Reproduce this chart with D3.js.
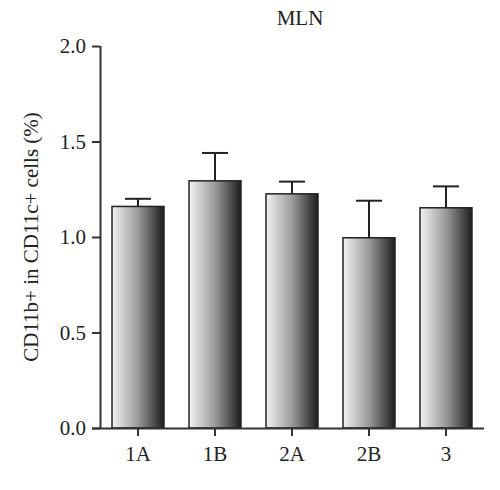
<!DOCTYPE html>
<html>
<head>
<script src="https://cdn.jsdelivr.net/npm/d3@7"></script>
<style>body{margin:0;background:#fff}</style>
</head>
<body>
<div id="chart"></div>
<script>
const groups = ["1A", "1B", "2A", "2B", "3"];
const means = [1.16, 1.294, 1.226, 0.996, 1.153];
const errors = [0.04, 0.146, 0.064, 0.194, 0.112];
const yTicks = [0, 0.5, 1.0, 1.5, 2.0];

const font = "'Liberation Serif', 'Times New Roman', serif";
const svg = d3.select("#chart").append("svg")
    .attr("width", 500).attr("height", 490);

// Bar gradient: light left, dark right
const grad = svg.append("defs").append("linearGradient")
    .attr("id", "barGrad").attr("x1", "0%").attr("x2", "100%");
grad.append("stop").attr("offset", "0%").attr("stop-color", "#f2f2f2");
grad.append("stop").attr("offset", "50%").attr("stop-color", "#9a9a9a");
grad.append("stop").attr("offset", "100%").attr("stop-color", "#1e1e1e");

const x = d3.scaleBand().domain(groups).range([100, 484])
    .paddingInner(0.325).paddingOuter(0.156);
const y = d3.scaleLinear().domain([0, 2]).range([428, 46]);

// Error bars (upper only)
svg.selectAll(".err").data(groups).enter().append("line")
    .attr("x1", d => x(d) + x.bandwidth() / 2).attr("x2", d => x(d) + x.bandwidth() / 2)
    .attr("y1", (d, i) => y(means[i])).attr("y2", (d, i) => y(means[i] + errors[i]))
    .attr("stroke", "#222").attr("stroke-width", 2);
svg.selectAll(".cap").data(groups).enter().append("line")
    .attr("x1", d => x(d) + x.bandwidth() / 2 - 13).attr("x2", d => x(d) + x.bandwidth() / 2 + 13)
    .attr("y1", (d, i) => y(means[i] + errors[i])).attr("y2", (d, i) => y(means[i] + errors[i]))
    .attr("stroke", "#222").attr("stroke-width", 2);

svg.selectAll(".bar").data(groups).enter().append("rect")
    .attr("x", d => x(d)).attr("width", x.bandwidth())
    .attr("y", (d, i) => y(means[i])).attr("height", (d, i) => y(0) - y(means[i]))
    .attr("fill", "url(#barGrad)").attr("stroke", "#222").attr("stroke-width", 1.5);

// Axes
const yAxis = svg.append("g").attr("transform", "translate(100,0)")
    .call(d3.axisLeft(y).tickValues(yTicks).tickFormat(d3.format(".1f")).tickSize(8).tickPadding(6));
const xAxis = svg.append("g").attr("transform", "translate(0,428)")
    .call(d3.axisBottom(x).tickSize(8).tickPadding(10).tickSizeOuter(0));
xAxis.select(".domain").attr("d", "M92,0.5H484");
[xAxis, yAxis].forEach(g => {
    g.attr("font-family", null).attr("font-size", null);
    g.selectAll("path,line").attr("stroke", "#333").attr("stroke-width", 2);
    g.selectAll("text").style("font-family", font).style("font-size", "21px").attr("fill", "#222");
});
yAxis.select(".domain").attr("d", "M0.5,46V428");

svg.append("text").attr("x", 300).attr("y", 25).attr("text-anchor", "middle")
    .style("font-family", font).style("font-size", "21px").attr("fill", "#222").text("MLN");
svg.append("text").attr("transform", "translate(38,237) rotate(-90)").attr("text-anchor", "middle")
    .style("font-family", font).style("font-size", "21px").attr("fill", "#222")
    .text("CD11b+ in CD11c+ cells (%)");
</script>
</body>
</html>
